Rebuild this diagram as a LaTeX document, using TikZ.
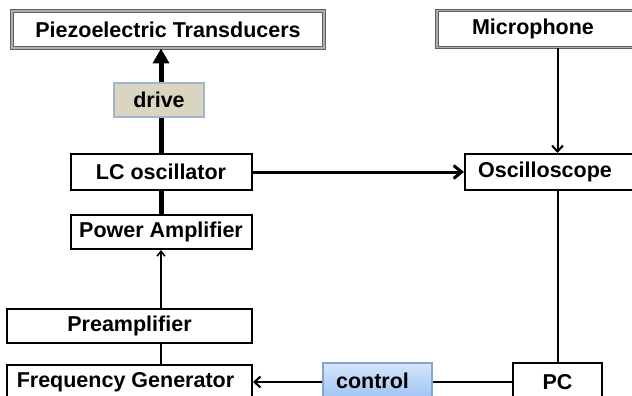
\documentclass[tikz,border=0pt]{standalone}
\usepackage{fontspec}
\setmainfont{Liberation Sans}
\usepackage{xcolor}
\usepackage{tikz}
\usetikzlibrary{arrows.meta,positioning,shadings}
\definecolor{rig@frame}{RGB}{95,95,95}
\definecolor{rig@gap}{RGB}{175,175,175}
\definecolor{rig@sand}{RGB}{218,213,192}
\definecolor{rig@sandedge}{RGB}{160,182,205}
\definecolor{rig@skytop}{RGB}{214,230,252}
\definecolor{rig@skybot}{RGB}{158,194,242}
\definecolor{rig@skyedge}{RGB}{130,165,210}
\tikzset{
  rig/.style={
    x=1pt, y=-1pt,
    line width=2pt,
    every node/.style={font=\fontsize{21.5}{25}\selectfont\bfseries}
  },
  blk/.style={                     % plain instrument box
    draw=black, line width=2pt,
    fill=white,
    inner sep=0pt
  },
  dblk/.style={                    % double framed end device
    draw=rig@frame, line width=1pt,
    double=rig@gap, double distance=1.6pt,
    fill=white,
    inner sep=0pt
  },
  drivetag/.style={
    draw=rig@sandedge, line width=1.2pt,
    fill=rig@sand,
    inner sep=0pt
  },
  ctrltag/.style={
    draw=rig@skyedge, line width=1.2pt,
    top color=rig@skytop, bottom color=rig@skybot,
    inner sep=0pt
  },
  drivearrow/.style={-{Triangle[length=15pt,width=16pt]}, line width=5pt},
  sigarrow/.style={-{Straight Barb[length=8pt,width=13pt]}, line width=3pt},
  wire/.style={-{Straight Barb[length=6pt,width=11pt]}, line width=2pt},
  feedwire/.style={-{Straight Barb[length=5pt,width=8pt]}, line width=1.5pt}
}
\begin{document}
\begin{tikzpicture}[rig]
\useasboundingbox (0,0) rectangle (632,396);
\clip (0,0) rectangle (632,396);

% end devices (top)
\node[dblk, minimum width=312pt, minimum height=37pt] (piezo) at (168,29.5)
  {Piezoelectric Transducers};
\node[dblk, minimum width=200pt, minimum height=37pt] (mic) at (537,29)
  {Microphone\hspace*{8pt}};

% driving chain (left)
\node[blk, minimum width=181pt, minimum height=36pt] (lc) at (161,172)
  {LC oscillator};
\node[blk, minimum width=181pt, minimum height=34pt] (pamp) at (161,232)
  {Power Amplifier};
\node[blk, minimum width=245pt, minimum height=34pt] (preamp) at (129.5,326)
  {Preamplifier};
\node[blk, minimum width=245pt, minimum height=35pt] (fgen) at (129.5,382.5)
  {Frequency Generator\hspace*{8pt}};

% measuring side (right)
\node[blk, minimum width=180pt, minimum height=36pt] (osc) at (555,172)
  {Oscilloscope\hspace*{20pt}};
\node[blk, minimum width=89pt, minimum height=38pt] (pc) at (557.5,382)
  {PC};

% connections
\draw[drivearrow] (lc.north) -- (lc.north |- piezo.south);
\draw[line width=5pt] (pamp.north) -- (lc.south);
\draw[feedwire] (preamp.north -| pamp.south) -- (pamp.south);
\draw (fgen.north -| pamp.south) -- (preamp.south -| pamp.south);
\draw[sigarrow] (lc.east) -- (osc.west);
\draw[wire] (mic.south -| pc.north) -- (osc.north -| pc.north);
\draw (osc.south -| pc.north) -- (pc.north);
\draw[wire] (pc.west) -- (pc.west -| fgen.east);

% tags sitting on the wires
\node[drivetag, minimum width=90pt, minimum height=34pt] (drive) at (159,100) {drive};
\node[ctrltag, minimum width=109pt, minimum height=36pt] (ctrl) at (377.5,381) {control\hspace*{10pt}};

\end{tikzpicture}
\end{document}
